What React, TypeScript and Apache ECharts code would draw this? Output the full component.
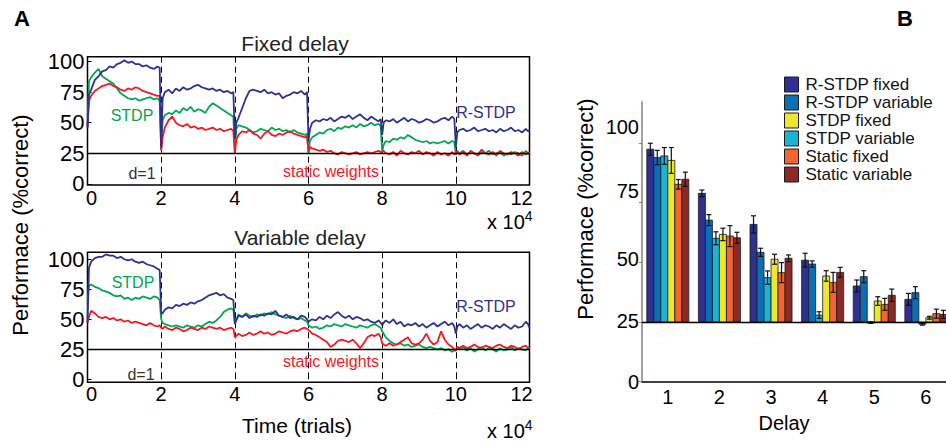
import React, { useEffect, useRef } from "react";
import * as echarts from "echarts";

const FF = '"Liberation Sans", Arial, Helvetica, sans-serif';

// ---------- Panel A: performance over time (x in units of 10^4 trials) ----------
const SEG_STARTS = [0, 2, 4, 6, 8, 10];
const SEG_OFFSETS = [0, 0.04, 0.1, 0.2, 0.3, 0.4, 0.5, 0.6, 0.7, 0.8, 0.9, 1.0, 1.1, 1.2, 1.3, 1.4, 1.5, 1.6, 1.7, 1.8, 1.9, 1.96];
const TRIAL_END = 12;
const X_TICKS_A = [0, 2, 4, 6, 8, 10, 12];
const Y_TICKS_A = [0, 25, 50, 75, 100];

const FIXED_RSTDP = [
  46, 73, 77, 85, 88, 92, 93, 96, 95, 98, 99, 101, 99, 100, 98, 98, 96, 97, 95, 94, 96, 95,
  30, 70, 75, 77, 74, 78, 76, 79, 77, 78, 80, 81, 79, 78, 77, 78, 76, 77, 75, 76, 74, 75,
  37, 50, 54, 62, 70, 76, 77, 76, 75, 77, 74, 75, 73, 74, 70, 72, 73, 75, 74, 76, 73, 75,
  35, 45, 50, 52, 51, 53, 52, 54, 51, 53, 55, 54, 56, 53, 55, 57, 54, 52, 55, 53, 51, 53,
  40, 50, 52, 51, 53, 50, 52, 54, 51, 53, 52, 50, 51, 53, 52, 50, 51, 53, 54, 52, 55, 53,
  30, 42, 44, 45, 43, 44, 46, 43, 44, 45, 43, 44, 42, 45, 43, 44, 46, 43, 44, 42, 45, 43,
  44,
];
const FIXED_STDP = [
  48, 84, 87, 91, 94, 88, 86, 84, 82, 78, 74, 72, 70, 69, 70, 68, 69, 70, 71, 69, 70, 68,
  28, 52, 56, 58, 57, 60, 58, 62, 60, 63, 59, 61, 60, 58, 63, 66, 64, 62, 60, 58, 56, 55,
  26, 45, 48, 47, 46, 44, 42, 43, 45, 44, 43, 46, 44, 45, 43, 44, 42, 44, 42, 41, 40, 41,
  25, 35, 38, 40, 42, 41, 44, 45, 43, 46, 45, 47, 46, 48, 46, 49, 47, 48, 50, 48, 49, 47,
  26, 32, 35, 34, 37, 36, 38, 37, 40, 38, 36, 35, 34, 35, 33, 34, 33, 34, 35, 33, 35, 34,
  24, 26, 25, 27, 24, 26, 25, 23, 26, 25, 27, 24, 25, 26, 23, 25, 24, 26, 25, 23, 27, 25,
  26,
];
const FIXED_STATIC = [
  46, 68, 72, 76, 78, 80, 81, 82, 80, 79, 77, 76, 78, 77, 79, 78, 76, 75, 74, 73, 72, 72,
  27, 38, 46, 52, 55, 50, 48, 47, 49, 46, 47, 45, 46, 44, 45, 46, 44, 45, 43, 44, 45, 43,
  25, 36, 40, 43, 42, 44, 41, 40, 37, 41, 43, 40, 39, 41, 40, 42, 43, 41, 40, 39, 38, 39,
  26, 30, 29, 28, 27, 28, 26, 27, 25, 24, 26, 25, 24, 25, 26, 24, 25, 26, 25, 26, 27, 26,
  26, 27, 25, 24, 26, 23, 27, 25, 24, 26, 25, 27, 24, 26, 25, 23, 26, 24, 25, 23, 26, 24,
  25, 27, 24, 26, 23, 27, 25, 24, 28, 25, 24, 26, 23, 27, 25, 24, 26, 25, 23, 26, 24, 25,
  25,
];
const VAR_RSTDP = [
  47, 93, 98, 101, 102, 102, 104, 103, 103, 101, 102, 100, 99, 100, 98, 97, 98, 96, 95, 94, 92, 91,
  55, 55, 58, 60, 59, 62, 61, 63, 62, 64, 63, 65, 66, 68, 70, 71, 72, 70, 71, 68, 67, 66,
  46, 49, 53, 52, 54, 51, 53, 52, 54, 53, 55, 54, 57, 53, 52, 54, 51, 52, 50, 53, 52, 50,
  48, 49, 50, 49, 52, 50, 53, 51, 54, 56, 53, 51, 53, 50, 52, 51, 49, 50, 48, 47, 49, 47,
  45, 47, 49, 47, 50, 46, 48, 44, 46, 45, 47, 44, 46, 43, 45, 47, 44, 46, 48, 45, 47, 44,
  38, 44, 46, 43, 45, 42, 44, 46, 43, 45, 44, 42, 45, 43, 46, 44, 42, 45, 43, 44, 48, 46,
  43,
];
const VAR_STDP = [
  64, 78, 79, 77, 76, 74, 73, 72, 70, 69, 70, 67, 68, 66, 68, 67, 69, 68, 67, 69, 68, 66,
  50, 47, 46, 45, 44, 45, 44, 43, 45, 44, 43, 45, 44, 46, 48, 47, 49, 52, 56, 58, 59, 58,
  48, 50, 54, 52, 55, 53, 52, 54, 53, 55, 54, 56, 54, 53, 52, 51, 53, 51, 50, 51, 49, 48,
  45, 44, 43, 44, 42, 43, 45, 44, 46, 45, 44, 46, 45, 44, 43, 45, 44, 43, 45, 46, 44, 43,
  40, 38, 35, 32, 30, 29, 30, 28, 29, 27, 28, 29, 27, 26, 27, 26, 25, 26, 24, 25, 23, 24,
  24, 26, 25, 27, 24, 26, 23, 25, 27, 24, 26, 25, 23, 26, 24, 25, 27, 24, 26, 25, 24, 26,
  25,
];
const VAR_STATIC = [
  47, 52, 57, 55, 52, 51, 52, 50, 51, 49, 50, 48, 49, 47, 48, 47, 46, 45, 47, 45, 44, 45,
  43, 42, 44, 42, 41, 43, 42, 40, 41, 43, 42, 41, 43, 42, 44, 43, 42, 43, 41, 42, 43, 42,
  35, 36, 38, 36, 37, 39, 37, 38, 40, 38, 39, 37, 38, 40, 39, 38, 40, 41, 40, 42, 43, 42,
  41, 40, 38, 37, 35, 33, 31, 27, 29, 32, 33, 32, 31, 33, 30, 26, 30, 35, 37, 36, 38, 35,
  30, 29, 28, 30, 28, 29, 31, 33, 35, 30, 29, 30, 33, 38, 32, 29, 31, 40, 33, 29, 27, 25,
  24, 27, 26, 28, 26, 27, 29, 27, 26, 28, 27, 26, 28, 29, 27, 26, 28, 27, 25, 27, 28, 26,
  27,
];

// ---------- Panel B: performance per delay ----------
const DELAYS = [1, 2, 3, 4, 5, 6];
const Y_TICKS_B = [0, 25, 50, 75, 100];
const CHANCE = 25;
const R_FIXED = [97.4, 78.9, 65.9, 50.9, 40.1, 34.5];
const R_FIXED_ERR = [2.5, 1.4, 3.6, 2.9, 2.5, 2.5];
const R_VAR = [93.9, 67.7, 54.2, 49.3, 44.0, 37.3];
const R_VAR_ERR = [3.0, 2.3, 1.7, 1.3, 2.5, 2.5];
const STDP_FIXED = [92.7, 61.7, 51.3, 44.3, 33.8, 26.8];
const STDP_FIXED_ERR = [5.4, 2.6, 2.1, 2.2, 1.8, 0.6];
const STDP_VAR = [94.6, 60.1, 43.6, 27.9, 24.8, 24.1];
const STDP_VAR_ERR = [3.5, 2.7, 2.8, 1.4, 0.3, 0.4];
const STATIC_FIXED = [82.7, 61.0, 45.7, 41.6, 32.4, 28.5];
const STATIC_FIXED_ERR = [2.0, 4.4, 4.2, 4.2, 2.5, 1.9];
const STATIC_VAR = [84.8, 60.3, 51.7, 45.8, 36.2, 28.2];
const STATIC_VAR_ERR = [3.0, 2.3, 1.4, 2.1, 2.6, 1.7];
const LEGEND_ORDER = ["R-STDP fixed", "R-STDP variable", "STDP fixed", "STDP variable", "Static fixed", "Static variable"];

const BLUE = "#2e3192";
const GREEN = "#00a651";
const RED = "#ed1c24";

const TRIALS_X = [...SEG_STARTS.flatMap((s) => SEG_OFFSETS.map((o) => +(s + o).toFixed(2))), TRIAL_END];
const pairs = (ys: number[]) => TRIALS_X.map((x, i) => [x, ys[i]]);

const BAR_W = 0.1357;

const BAR_CONDS = [
  { name: "R-STDP fixed", color: "#2e3192", v: R_FIXED, e: R_FIXED_ERR },
  { name: "R-STDP variable", color: "#0b6fb8", v: R_VAR, e: R_VAR_ERR },
  { name: "STDP variable", color: "#19b4d8", v: STDP_VAR, e: STDP_VAR_ERR },
  { name: "STDP fixed", color: "#efe72c", v: STDP_FIXED, e: STDP_FIXED_ERR },
  { name: "Static fixed", color: "#f26530", v: STATIC_FIXED, e: STATIC_FIXED_ERR },
  { name: "Static variable", color: "#8e2a26", v: STATIC_VAR, e: STATIC_VAR_ERR },
];

const makeBarRenderer = (k: number) => (params: any, api: any) => {
  const d = api.value(0);
  const v = api.value(1);
  const e = api.value(2);
  const cx = d + (k - 2.5) * BAR_W;
  const pl = api.coord([cx - BAR_W / 2, v]);
  const pr = api.coord([cx + BAR_W / 2, CHANCE]);
  const top = Math.min(pl[1], pr[1]);
  const h = Math.max(Math.abs(pr[1] - pl[1]), 1);
  const c = api.coord([cx, v]);
  const eTop = api.coord([cx, v + e])[1];
  const eBot = api.coord([cx, v - e])[1];
  const cap = 2.5;
  const es = { stroke: "#111", lineWidth: 1.2 };
  return {
    type: "group",
    children: [
      { type: "rect", shape: { x: pl[0], y: top, width: pr[0] - pl[0], height: h }, style: { fill: api.visual("color"), stroke: "#1a1a1a", lineWidth: 0.8 } },
      { type: "line", shape: { x1: c[0], y1: eTop, x2: c[0], y2: eBot }, style: es },
      { type: "line", shape: { x1: c[0] - cap, y1: eTop, x2: c[0] + cap, y2: eTop }, style: es },
      { type: "line", shape: { x1: c[0] - cap, y1: eBot, x2: c[0] + cap, y2: eBot }, style: es },
    ],
  };
};

const chanceLine = {
  silent: true,
  symbol: "none",
  label: { show: false },
  lineStyle: { color: "#000", width: 1.3, type: "solid" },
  data: [{ yAxis: CHANCE }],
};

const lineSeries = (name: string, ys: number[], color: string, idx: number, withMark: boolean) => ({
  type: "line",
  name,
  xAxisIndex: idx,
  yAxisIndex: idx,
  data: pairs(ys),
  showSymbol: false,
  symbol: "none",
  lineStyle: { color, width: 1.8 },
  itemStyle: { color },
  ...(withMark ? { markLine: chanceLine } : {}),
});

const xRichA: any = {
  n: { fontSize: 20, color: "#000", fontFamily: FF },
  f: { fontSize: 20, color: "#000", fontFamily: FF, padding: [0, 0, 0, 8] },
  l: { fontSize: 20, color: "#000", fontFamily: FF, padding: [0, 16, 0, 0] },
};

const xAxisA = (gridIndex: number, margin: number) => ({
  type: "value",
  gridIndex,
  min: 0,
  max: 12,
  interval: 2,
  axisLine: { show: false },
  axisTick: { show: true, inside: true, length: 4, lineStyle: { color: "#000" } },
  axisLabel: {
    fontSize: 20,
    color: "#000",
    fontFamily: FF,
    margin,
    customValues: X_TICKS_A,
    formatter: (v: number) => (v === 0 ? `{f|${v}}` : v === 12 ? `{l|${v}}` : `{n|${v}}`),
    rich: xRichA,
  },
  splitLine: { show: true, lineStyle: { color: "#000", width: 1, type: [6, 4] } },
});

const yAxisA = (gridIndex: number, min: number, max: number) => ({
  type: "value",
  gridIndex,
  min,
  max,
  axisLine: { show: false },
  axisTick: { show: true, inside: true, length: 4, customValues: Y_TICKS_A, lineStyle: { color: "#000" } },
  axisLabel: { fontSize: 22, color: "#000", fontFamily: FF, margin: 3, customValues: Y_TICKS_A },
  splitLine: { show: false },
});

const txt = (text: string, x: number, y: number, fontSize: number, fill: string, extra: any = {}) => ({
  type: "text",
  x,
  y,
  silent: true,
  ...extra,
  style: { text, fill, fontSize, fontFamily: FF, align: "center", verticalAlign: "middle", ...(extra.style || {}) },
});

const yLabelShift: Record<string, number[]> = { "100": [0, 0, 32, 0], "75": [0, 0, 24, 0], "50": [0, 0, 6, 0], "25": [0, 0, 2, 0], "0": [0, 0, 0, 0] };
const yRich: any = {};
Object.keys(yLabelShift).forEach((k) => {
  yRich["s" + k] = { fontSize: 20, color: "#000", fontFamily: FF, padding: yLabelShift[k] };
});

const option: any = {
  animation: false,
  backgroundColor: "#fff",
  textStyle: { fontFamily: FF },
  grid: [
    { left: 87.5, top: 56.7, width: 442, height: 128.3, show: true, borderColor: "#000", borderWidth: 1.5, backgroundColor: "transparent" },
    { left: 87.5, top: 252.3, width: 442, height: 130, show: true, borderColor: "#000", borderWidth: 1.5, backgroundColor: "transparent" },
    { left: 642, top: 101.7, width: 304, height: 280 },
  ],
  xAxis: [
    xAxisA(0, 3),
    xAxisA(1, 2),
    {
      type: "value",
      gridIndex: 2,
      min: 0.5,
      max: 6.39,
      axisLine: { show: true, lineStyle: { color: "#000", width: 1.5 } },
      axisTick: { show: false },
      axisLabel: { fontSize: 20, color: "#000", fontFamily: FF, margin: 5, customValues: DELAYS },
      splitLine: { show: false },
    },
  ],
  yAxis: [
    yAxisA(0, -1, 104),
    yAxisA(1, -2.5, 105.8),
    {
      type: "value",
      gridIndex: 2,
      min: 0,
      max: 117.3,
      axisLine: { show: true, lineStyle: { color: "#808080", width: 1.5 } },
      axisTick: { show: true, length: 3, customValues: Y_TICKS_B, lineStyle: { color: "#808080" } },
      axisLabel: {
        customValues: Y_TICKS_B,
        margin: 3,
        fontSize: 20,
        color: "#000",
        fontFamily: FF,
        formatter: (v: number) => `{s${v}|${v}}`,
        rich: yRich,
      },
      splitLine: { show: false },
    },
  ],
  legend: {
    orient: "vertical",
    left: 784,
    top: 76,
    padding: 0,
    itemGap: 1,
    itemWidth: 14,
    itemHeight: 15,
    icon: "rect",
    data: LEGEND_ORDER,
    itemStyle: { borderColor: "#1a1a1a", borderWidth: 1 },
    textStyle: { fontSize: 17, color: "#111", fontFamily: FF, padding: [0, 0, 0, 2] },
    selectedMode: false,
  },
  series: [
    lineSeries("fixed STDP", FIXED_STDP, GREEN, 0, true),
    lineSeries("fixed static", FIXED_STATIC, RED, 0, false),
    lineSeries("fixed R-STDP", FIXED_RSTDP, BLUE, 0, false),
    lineSeries("variable STDP", VAR_STDP, GREEN, 1, true),
    lineSeries("variable static", VAR_STATIC, RED, 1, false),
    lineSeries("variable R-STDP", VAR_RSTDP, BLUE, 1, false),
    ...BAR_CONDS.map((c, k) => ({
      type: "custom",
      name: c.name,
      xAxisIndex: 2,
      yAxisIndex: 2,
      itemStyle: { color: c.color },
      encode: { x: 0, y: 1 },
      data: DELAYS.map((d, i) => [d, c.v[i], c.e[i]]),
      renderItem: makeBarRenderer(k),
      ...(k === 0 ? { markLine: chanceLine } : {}),
    })),
  ],
  graphic: [
    txt("A", 22, 18, 22, "#000", { style: { fontWeight: "bold" } }),
    txt("B", 905, 18, 22, "#000", { style: { fontWeight: "bold" } }),
    txt("Fixed delay", 295, 43, 21, "#222"),
    txt("Variable delay", 300, 237, 21, "#222"),
    txt("Time (trials)", 297, 425, 21, "#000"),
    txt("Performace (%correct)", 20, 225, 22, "#000", { rotation: Math.PI / 2 }),
    txt("Performace (%correct)", 585, 209, 22, "#000", { rotation: Math.PI / 2 }),
    txt("Delay", 784, 423, 20, "#000"),
    txt("x 10{s|4}", 487, 222, 20, "#000", { style: { align: "left", rich: { s: { fontSize: 14, fontFamily: FF, fill: "#000", padding: [0, 0, 12, 0] } } } }),
    txt("x 10{s|4}", 487, 431, 20, "#000", { style: { align: "left", rich: { s: { fontSize: 14, fontFamily: FF, fill: "#000", padding: [0, 0, 12, 0] } } } }),
    txt("STDP", 132, 115, 16, GREEN),
    txt("R-STDP", 486, 112, 16, BLUE),
    txt("static weights", 331, 171, 16, RED),
    txt("d=1", 142, 173, 16, "#333"),
    txt("STDP", 133, 282, 16, GREEN),
    txt("R-STDP", 486, 306, 16, BLUE),
    txt("static weights", 331, 361, 16, RED),
    txt("d=1", 141, 374, 16, "#333"),
  ],
};

export default function App() {
  const ref = useRef<HTMLDivElement>(null);
  useEffect(() => {
    if (!ref.current) return;
    const chart = echarts.init(ref.current, null, { renderer: "svg" });
    chart.setOption(option);
    return () => chart.dispose();
  }, []);
  return <div ref={ref} style={{ position: "fixed", left: 0, top: 0, width: 946, height: 441, background: "#fff" }} />;
}
